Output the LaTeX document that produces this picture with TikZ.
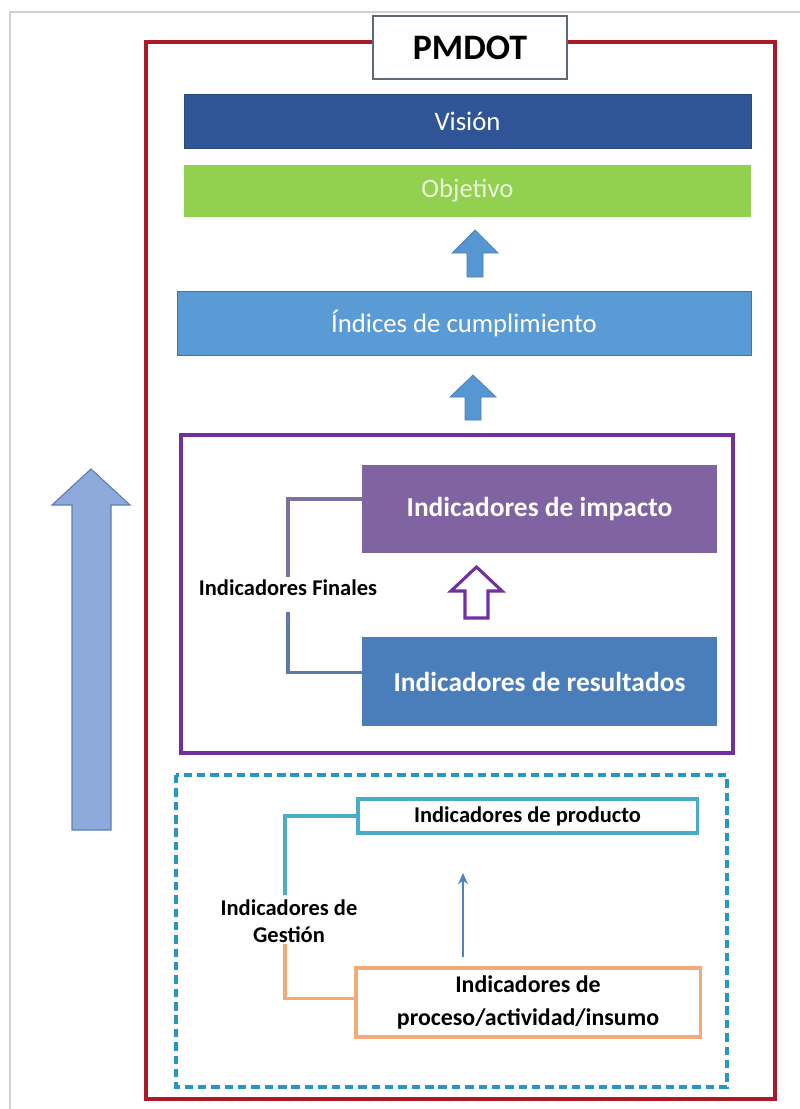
\documentclass[tikz,border=0pt]{standalone}
\usepackage{fontspec}
\setmainfont{Carlito}
\usetikzlibrary{calc,positioning,arrows.meta}

\definecolor{pageGray}{RGB}{205,210,218}
\definecolor{frameRed}{RGB}{172,26,42}
\definecolor{boxGray}{RGB}{95,105,115}
\definecolor{visionBlue}{RGB}{47,85,151}
\definecolor{objGreen}{RGB}{146,208,80}
\definecolor{objText}{RGB}{236,246,222}
\definecolor{indBlue}{RGB}{91,155,213}
\definecolor{arrowBlue}{RGB}{86,150,210}
\definecolor{finPurple}{RGB}{112,48,160}
\definecolor{impPurple}{RGB}{128,100,162}
\definecolor{resBlue}{RGB}{74,126,187}
\definecolor{brkPurple}{RGB}{125,112,158}
\definecolor{brkBlue}{RGB}{92,122,176}
\definecolor{gesCyan}{RGB}{38,150,200}
\definecolor{prodTeal}{RGB}{75,172,198}
\definecolor{procOrange}{RGB}{244,170,120}
\definecolor{thinBlue}{RGB}{79,129,189}
\definecolor{sideFill}{RGB}{142,169,219}
\definecolor{sideEdge}{RGB}{98,126,176}

\begin{document}
\begin{tikzpicture}[x=0.025cm, y=-0.025cm,
    bar/.style={inner sep=0pt, minimum width=14.175cm, text=white, line width=0.6pt,
        font=\fontsize{19}{22}\selectfont},
    indbox/.style={inner sep=0pt, minimum width=8.875cm, text=white,
        font=\bfseries\fontsize{19.5}{23}\selectfont},
    gesbox/.style={draw, line width=2.2pt, fill=white, inner sep=0pt, align=center},
    fatarrow/.style={fill=arrowBlue, draw=arrowBlue!85!black, line width=0.5pt},
    brk/.style={line width=2.6pt},
    side/.style={inner sep=1pt, align=center, font=\bfseries\fontsize{16}{19}\selectfont}]
    \useasboundingbox (0,0) rectangle (800,1109);

    % page edge
        \draw[pageGray, line width=1pt] (10,1109) |- (800,12);

    % outer frame and title
        \draw[frameRed, line width=2.2pt] (146,42) rectangle (775,1099);
        \node[draw=boxGray, fill=white, line width=1.2pt, minimum width=4.85cm, minimum height=1.575cm,
            font=\bfseries\fontsize{25.5}{30}\selectfont] (pmdot) at (470,47.5) {PMDOT};

    % top bars
        \node[bar, fill=visionBlue, draw=visionBlue!85!black, minimum height=1.35cm] (vision) at (467.5,121) {Visión};
        \node[bar, fill=objGreen, text=objText, minimum height=1.3cm] (objetivo) at (467.5,191) {Objetivo};
        \node[bar, fill=indBlue, draw=indBlue!75!black, minimum width=14.35cm, minimum height=1.6cm] (indices) at (464,323) {Índices de cumplimiento};

    % block arrows between the bars
        \draw[fatarrow] (467,277) -- (467,253) -- (452,253) -- (475,230) -- (498,253) -- (483,253) -- (483,277) -- cycle;
        \draw[fatarrow] (465,420) -- (465,397) -- (450,397) -- (473,375) -- (496,397) -- (481,397) -- (481,420) -- cycle;

    % final indicators
        \draw[finPurple, line width=2.2pt] (181,435) rectangle (733,753);
        \node[indbox, fill=impPurple, minimum height=2.2cm] (impacto) at (539.5,509) {Indicadores de impacto};
        \node[indbox, fill=resBlue, minimum height=2.225cm] (resultados) at (539.5,681.5) {Indicadores de resultados};
        \draw[finPurple, line width=2.2pt, fill=white] (465,618) -- (465,591) -- (451,591) -- (476.5,567)
            -- (502,591) -- (488,591) -- (488,618) -- cycle;
        \node[side] (finales) at (288,588) {Indicadores Finales};
        \draw[brk, brkPurple] ($(impacto.west)+(0,-10)$) -| ($(finales.north)+(0,-1)$);
        \draw[brk, brkBlue] ($(resultados.west)+(0,-9)$) -| ($(finales.south)+(0,14)$);

    % management indicators
        \draw[gesCyan, line width=2.2pt, dash pattern=on 6pt off 3.5pt] (176,775) rectangle (727,1087);
        \node[gesbox, draw=prodTeal, minimum width=8.475cm, minimum height=0.85cm,
            font=\bfseries\fontsize{16}{19}\selectfont] (producto) at (527.5,816) {Indicadores de producto};
        \node[gesbox, draw=procOrange, minimum width=8.6cm, minimum height=1.725cm,
            font=\bfseries\fontsize{17}{23}\selectfont] (proceso) at (528,1002.5) {Indicadores de\\proceso/actividad/insumo};
        \node[side] (gestion) at (289,921) {Indicadores de\\Gestión};
        \draw[brk, prodTeal] (producto.west) -| ($(gestion.north)+(-4,-3)$);
        \draw[brk, procOrange] ($(proceso.west)+(0,-4)$) -| ($(gestion.south)+(-4,0)$);

        \coordinate (tail) at (463,957);
        \coordinate (head) at (463,873);
        \draw[thinBlue, line width=1.2pt, -{Stealth[length=8pt,width=7pt]}] (tail) -- (head);

    % big side arrow
        \draw[fill=sideFill, draw=sideEdge, line width=0.8pt] (72,830) -- (72,505) -- (52,505) -- (91,469)
            -- (130,505) -- (111,505) -- (111,830) -- cycle;

\end{tikzpicture}
\end{document}
